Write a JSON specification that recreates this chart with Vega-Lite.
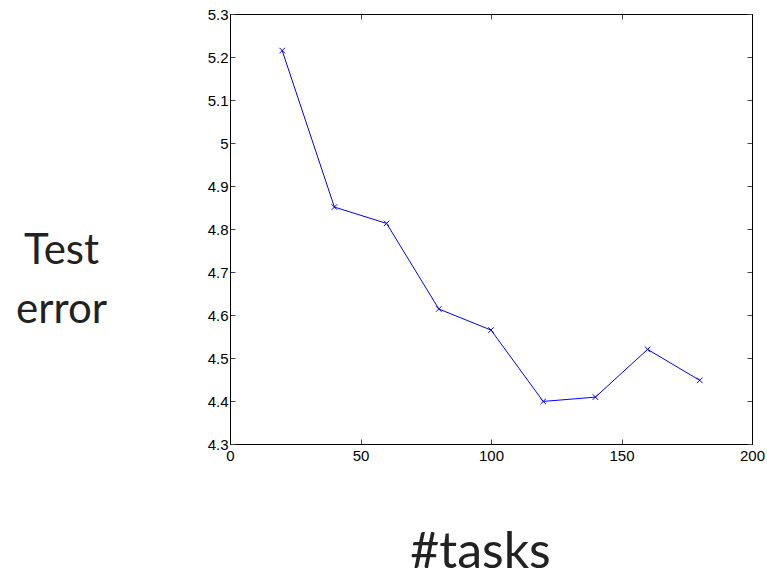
{
  "$schema": "https://vega.github.io/schema/vega-lite/v6.json",
  "autosize": "none",
  "padding": {"left": 230, "top": 14, "right": 15, "bottom": 134},
  "width": 522,
  "height": 430,
  "background": "white",
  "config": {
    "view": {"stroke": "black", "strokeWidth": 1},
    "axis": {
      "domainColor": "black",
      "domainWidth": 1,
      "tickColor": "#444",
      "tickSize": -5,
      "grid": false,
      "labelFlush": false,
      "labelFont": "Liberation Sans",
      "labelFontSize": 15,
      "labelColor": "black",
      "titleFontWeight": "normal",
      "titleFont": "Lato",
      "titleFontSize": 42,
      "titleColor": "#222"
    }
  },
  "data": {
    "values": [
      {"tasks": 20, "error": 5.215},
      {"tasks": 40, "error": 4.851},
      {"tasks": 60, "error": 4.813},
      {"tasks": 80, "error": 4.614},
      {"tasks": 100, "error": 4.565},
      {"tasks": 120, "error": 4.399},
      {"tasks": 140, "error": 4.409},
      {"tasks": 160, "error": 4.520},
      {"tasks": 180, "error": 4.448}
    ]
  },
  "layer": [
    {
      "mark": {"type": "line", "color": "#0000ff", "strokeWidth": 1},
      "encoding": {
        "x": {
          "field": "tasks", "type": "quantitative",
          "scale": {"domain": [0, 200], "nice": false, "zero": false},
          "axis": {
            "orient": "bottom",
            "values": [0, 50, 100, 150, 200],
            "labelPadding": 9,
            "title": "#tasks",
            "titleFontSize": 50,
            "titleX": 250, "titleY": 123,
            "titleAlign": "center", "titleBaseline": "alphabetic"
          }
        },
        "y": {
          "field": "error", "type": "quantitative",
          "scale": {"domain": [4.3, 5.3], "nice": false, "zero": false},
          "axis": {
            "orient": "left",
            "values": [4.3, 4.4, 4.5, 4.6, 4.7, 4.8, 4.9, 5.0, 5.1, 5.2, 5.3],
            "format": ".2~f",
            "labelPadding": 7,
            "title": ["Test", "error"],
            "titleAngle": 0,
            "titleX": -169, "titleY": 249,
            "titleAlign": "center", "titleBaseline": "alphabetic",
            "titleLineHeight": 59
          }
        }
      }
    },
    {
      "mark": {
        "type": "point",
        "shape": "M-1,-1L1,1M-1,1L1,-1",
        "filled": false,
        "color": "#0000ff",
        "strokeWidth": 1,
        "size": 30,
        "opacity": 1
      },
      "encoding": {
        "x": {
          "field": "tasks", "type": "quantitative",
          "axis": {"orient": "top", "values": [0, 50, 100, 150, 200], "labels": false, "title": null}
        },
        "y": {
          "field": "error", "type": "quantitative",
          "axis": {"orient": "right", "values": [4.3, 4.4, 4.5, 4.6, 4.7, 4.8, 4.9, 5.0, 5.1, 5.2, 5.3], "labels": false, "title": null}
        }
      }
    }
  ],
  "resolve": {"axis": {"x": "independent", "y": "independent"}}
}
